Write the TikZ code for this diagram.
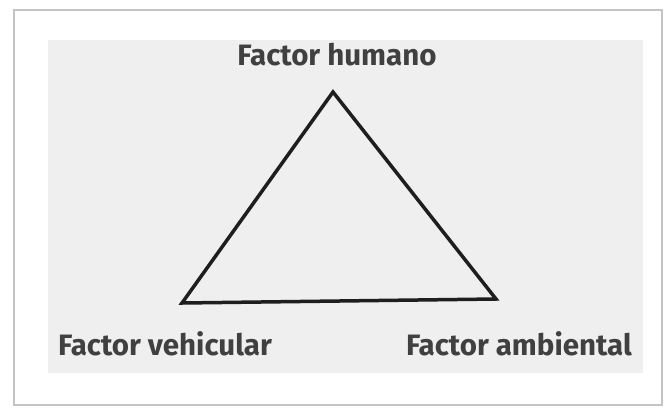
\documentclass[tikz,border=0pt]{standalone}
\usepackage{fontspec}
\setmainfont{Fira Sans}
\definecolor{panel}{HTML}{EFEFEF}
\definecolor{frame}{HTML}{C4C4C4}
\definecolor{ink}{HTML}{1E1E1E}
\begin{document}
\begin{tikzpicture}[x=1pt,y=-1pt,
  lbl/.style={inner sep=0pt,text=ink!85,font=\fontsize{29.5}{32}\selectfont\bfseries},
  edge/.style={draw=ink,line width=3.5pt,line join=miter}]
\useasboundingbox (0,0) rectangle (670,408);
\fill[white] (0,0) rectangle (670,408);
\draw[frame,line width=1.5pt] (14,10) rectangle (662,405);
\fill[panel] (48,40) rectangle (643,373);
\coordinate (top) at (333,92);
\coordinate (bl) at (182,303);
\coordinate (br) at (496,299);
\draw[edge] (top) -- (br) -- (bl) -- cycle;
\node[lbl,anchor=base] (h) at (337,65) {Factor humano};
\node[lbl,anchor=base west] (v) at (58,355) {Factor vehicular};
\node[lbl,anchor=base east] (a) at (632,355) {Factor ambiental};
\end{tikzpicture}
\end{document}
